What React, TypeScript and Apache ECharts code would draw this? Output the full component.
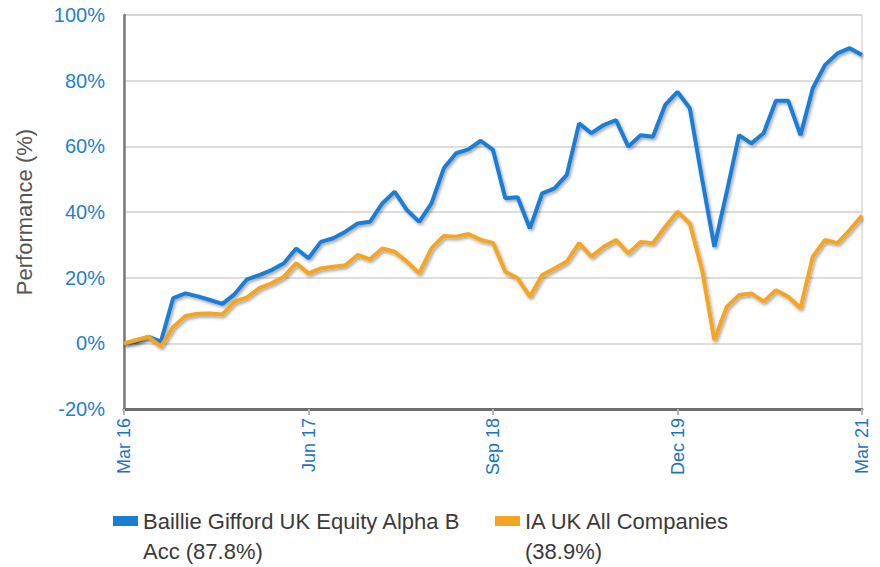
import React, { useEffect, useRef } from "react";
import * as echarts from "echarts";

const MONTHS = ["Jan", "Feb", "Mar", "Apr", "May", "Jun", "Jul", "Aug", "Sep", "Oct", "Nov", "Dec"];
const categories: string[] = [];
for (let i = 0; i <= 60; i++) {
  const m = (2 + i) % 12;
  const y = 16 + Math.floor((2 + i) / 12);
  categories.push(`${MONTHS[m]} ${y}`);
}

const fundName = "Baillie Gifford UK Equity Alpha B\nAcc (87.8%)";
const sectorName = "IA UK All Companies\n(38.9%)";

const fundValues = [
  0, 0.5, 2.0, 0.5, 13.8, 15.2, 14.3, 13.2, 12.0, 15.0,
  19.5, 20.8, 22.3, 24.4, 28.9, 25.9, 30.9, 32.0, 34.0, 36.5,
  37.0, 42.6, 46.2, 40.6, 37.0, 42.6, 53.3, 57.9, 59.1, 61.7,
  58.9, 44.2, 44.5, 35.0, 45.7, 47.2, 51.3, 67.0, 64.0, 66.5,
  68.0, 59.9, 63.4, 62.9, 72.6, 76.6, 71.6, 50.0, 29.4, 46.0,
  63.4, 60.9, 64.0, 73.9, 73.9, 63.4, 77.7, 84.8, 88.3, 89.9,
  87.8,
];

const sectorValues = [
  0, 1.0, 2.0, -1.0, 5.0, 8.3, 9.0, 9.1, 8.8, 12.7,
  14.0, 16.8, 18.3, 20.3, 24.4, 21.3, 22.8, 23.3, 23.8, 26.9,
  25.6, 28.9, 27.9, 24.9, 21.3, 28.9, 32.7, 32.5, 33.3, 31.5,
  30.6, 21.8, 19.8, 14.2, 20.8, 22.8, 24.9, 30.5, 26.4, 29.4,
  31.5, 27.4, 30.9, 30.5, 35.5, 40.1, 36.5, 22.3, 1.0, 11.1,
  14.7, 15.2, 12.7, 16.2, 14.2, 10.7, 26.4, 31.5, 30.5, 34.5,
  38.9,
];

const labelIndices = [0, 15, 30, 45, 60];

const FONT = "'Liberation Sans', Arial, sans-serif";
const BLUE = "#1b7dd6";
const ORANGE = "#f4a524";

export default function App() {
  const ref = useRef<HTMLDivElement>(null);
  useEffect(() => {
    document.body.style.margin = "0";
    if (!ref.current) return;
    const chart = echarts.init(ref.current, undefined, { renderer: "svg" });
    const shadow = {
      shadowColor: "rgba(0,0,0,0.35)",
      shadowBlur: 3,
      shadowOffsetX: 1.5,
      shadowOffsetY: 2,
    };
    const legendText = {
      color: "#3a3a3a",
      fontSize: 22,
      fontFamily: FONT,
      lineHeight: 30,
    };
    const legendBase = {
      top: 476,
      padding: 0,
      icon: "rect",
      itemWidth: 25,
      itemHeight: 10,
      textStyle: legendText,
      formatter: (name: string) => "\n" + name,
    };
    chart.setOption({
      animation: false,
      backgroundColor: "#fff",
      grid: {
        left: 124,
        right: 18,
        top: 15,
        bottom: 158,
        containLabel: false,
        outerBoundsMode: "none",
        show: true,
        borderColor: "#c8c8c8",
        borderWidth: 1,
      },
      legend: [
        { ...legendBase, data: [fundName], left: 113 },
        { ...legendBase, data: [sectorName], left: 495 },
      ],
      xAxis: {
        type: "category",
        data: categories,
        boundaryGap: false,
        axisLine: { show: true, onZero: false, lineStyle: { color: "#6e6e6e", width: 3 } },
        axisTick: {
          show: true,
          interval: (i: number) => labelIndices.includes(i),
          length: 6,
          lineStyle: { color: "#b5b5b5", width: 2 },
        },
        axisLabel: {
          interval: (i: number) => labelIndices.includes(i),
          rotate: 90,
          margin: 9,
          color: "#1a73c8",
          fontSize: 18,
          fontFamily: FONT,
        },
        splitLine: { show: false },
      },
      yAxis: {
        type: "value",
        min: -20,
        max: 100,
        interval: 20,
        name: "Performance (%)",
        nameLocation: "middle",
        nameGap: 89,
        nameTextStyle: { color: "#555", fontSize: 22, fontFamily: FONT },
        axisLine: { show: true, lineStyle: { color: "#7a7a7a", width: 2.5 } },
        axisTick: { show: false },
        axisLabel: {
          formatter: "{value}%",
          margin: 19,
          color: "#1d7fd6",
          fontSize: 20,
          fontFamily: FONT,
        },
        splitLine: { lineStyle: { color: "#d2d2d2", width: 1.5 } },
      },
      series: [
        {
          name: fundName,
          type: "line",
          data: fundValues,
          showSymbol: false,
          color: BLUE,
          lineStyle: { width: 4, color: BLUE, ...shadow },
        },
        {
          name: sectorName,
          type: "line",
          data: sectorValues,
          showSymbol: false,
          color: ORANGE,
          lineStyle: { width: 4, color: ORANGE, ...shadow },
        },
      ],
    });
    return () => chart.dispose();
  }, []);
  return (
    <div
      ref={ref}
      style={{ position: "fixed", left: 0, top: 0, width: 880, height: 567 }}
    />
  );
}
